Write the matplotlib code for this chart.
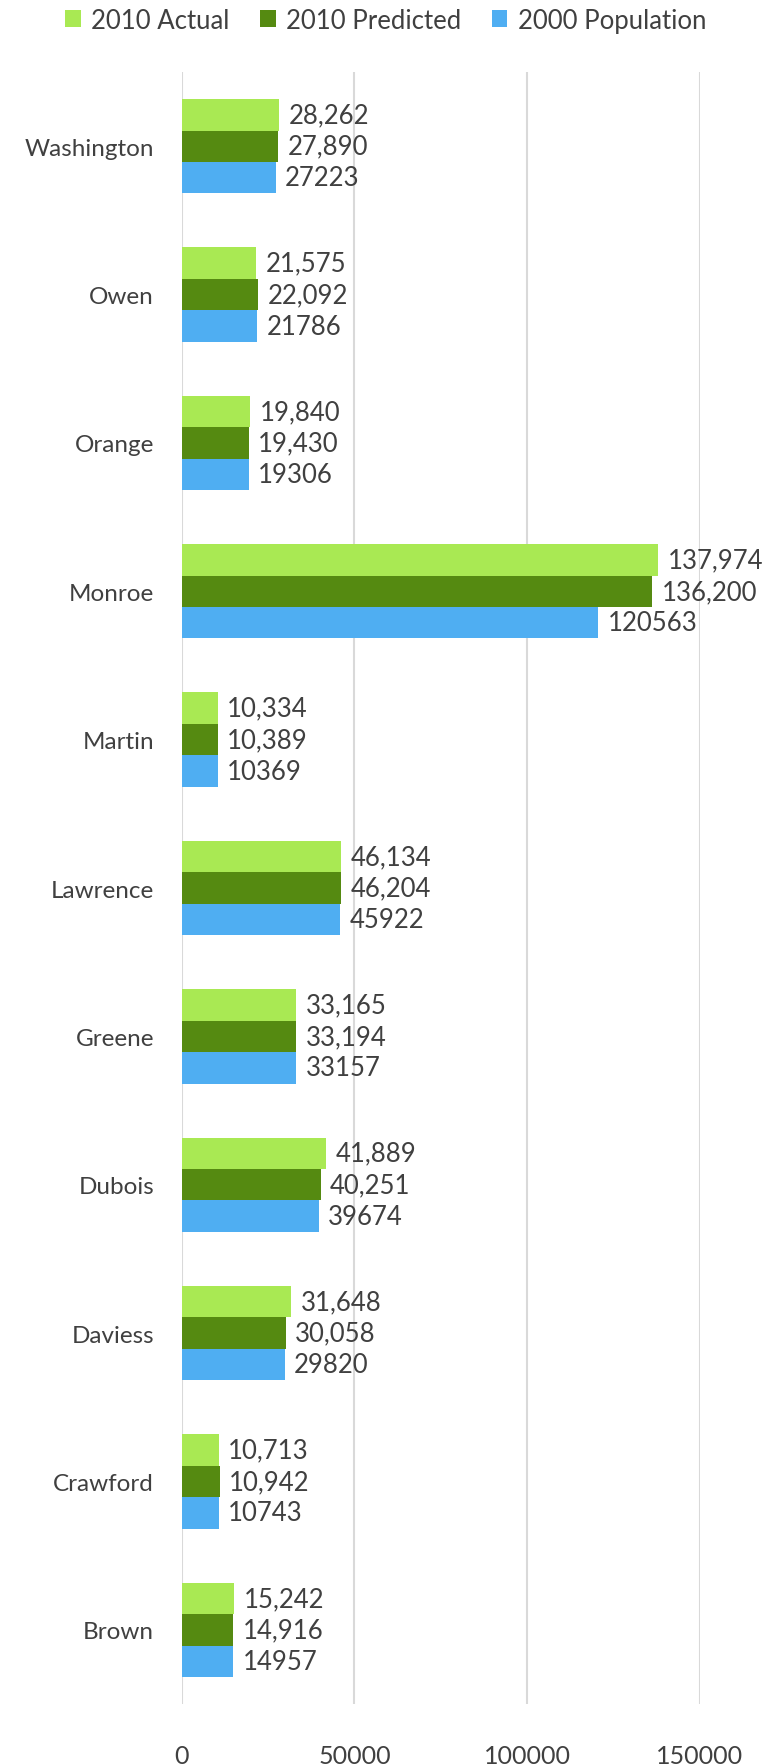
import matplotlib
matplotlib.use("Agg")
import matplotlib.pyplot as plt
import numpy as np

plt.rcParams['font.family'] = ['Lato', 'DejaVu Sans']

categories = ["Brown", "Crawford", "Daviess", "Dubois", "Greene", "Lawrence",
              "Martin", "Monroe", "Orange", "Owen", "Washington"]
actual_2010 = [15242, 10713, 31648, 41889, 33165, 46134, 10334, 137974, 19840, 21575, 28262]
predicted_2010 = [14916, 10942, 30058, 40251, 33194, 46204, 10389, 136200, 19430, 22092, 27890]
population_2000 = [14957, 10743, 29820, 39674, 33157, 45922, 10369, 120563, 19306, 21786, 27223]
series_names = ["2010 Actual", "2010 Predicted", "2000 Population"]
xticks = [0, 50000, 100000, 150000]

colors = ["#a9e953", "#558a11", "#4faef2"]
text_color = "#404040"

fig = plt.figure(figsize=(7.64, 17.65), dpi=100)
ax = fig.add_axes([0.238, 0.034, 0.678, 0.9246])

y = np.arange(len(categories))
h = 0.212
series = [actual_2010, predicted_2010, population_2000]
offsets = [h, 0, -h]
fmts = ["{:,}", "{:,}", "{}"]
for vals, off, col, name, fmt in zip(series, offsets, colors, series_names, fmts):
    bars = ax.barh(y + off, vals, height=h, color=col, label=name, zorder=3)
    for b, v in zip(bars, vals):
        ax.text(b.get_width() + 2700, b.get_y() + b.get_height() / 2, fmt.format(v),
                va="center", ha="left", fontsize=18.5, color=text_color, clip_on=False)

ax.set_xlim(0, 150000)
ax.set_ylim(-0.5, len(categories) - 0.5)
ax.set_yticks(y)
ax.set_yticklabels(categories, fontsize=17.5, color=text_color)
ax.set_xticks(xticks)
ax.set_xticklabels([str(t) for t in xticks], fontsize=18, color=text_color)
ax.tick_params(axis="both", length=0)
ax.tick_params(axis="y", pad=20)
ax.tick_params(axis="x", pad=29)
for s in ax.spines.values():
    s.set_visible(False)
ax.grid(axis="x", color="#d9d9d9", linewidth=1.5, zorder=0)
ax.set_axisbelow(True)

handles, labels = ax.get_legend_handles_labels()
fig.legend(handles, labels, loc="center", bbox_to_anchor=(0.505, 0.988), ncol=3,
           frameon=False, fontsize=18.5, labelcolor=text_color, handlelength=0.6,
           handleheight=0.6, handletextpad=0.4, columnspacing=1.2)

fig.savefig("out.png", dpi=100)
